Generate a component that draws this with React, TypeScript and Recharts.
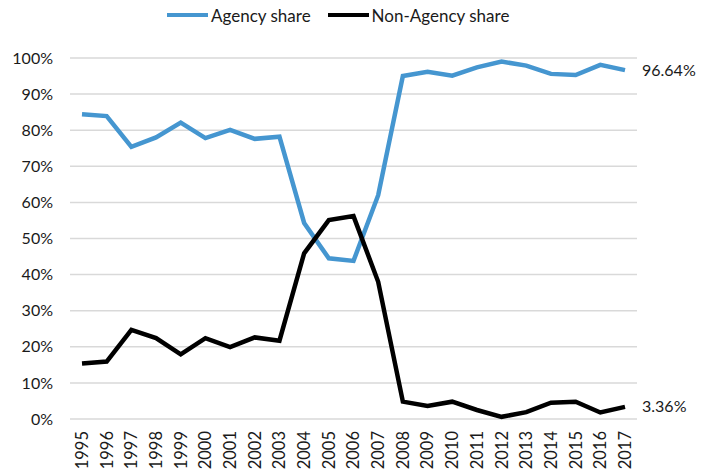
import { LineChart, Line, XAxis, YAxis, CartesianGrid, Legend, LabelList } from 'recharts';

const years = [
  '1995', '1996', '1997', '1998', '1999', '2000', '2001', '2002', '2003', '2004', '2005', '2006',
  '2007', '2008', '2009', '2010', '2011', '2012', '2013', '2014', '2015', '2016', '2017',
];

const agencyShare = [
  84.4, 83.9, 75.4, 78.0, 82.1, 77.8, 80.1, 77.6, 78.2, 54.3, 44.5, 43.8,
  62.0, 95.0, 96.2, 95.1, 97.4, 99.0, 97.9, 95.6, 95.3, 98.1, 96.64,
];

const nonAgencyShare = [
  15.4, 15.9, 24.7, 22.4, 17.9, 22.4, 19.9, 22.6, 21.7, 45.9, 55.1, 56.2,
  38.0, 4.8, 3.6, 4.8, 2.5, 0.6, 1.9, 4.5, 4.8, 1.8, 3.36,
];

const yTicks = [0, 10, 20, 30, 40, 50, 60, 70, 80, 90, 100];

const data = years.map((year, i) => ({
  year,
  agency: agencyShare[i],
  nonAgency: nonAgencyShare[i],
}));

const FONT = 'Lato, "Open Sans", sans-serif';
const TEXT = '#1a1a1a';
const BLUE = '#4596d0';
const BLACK = '#000000';

function YearTick({ x, y, payload }: any) {
  return (
    <text
      x={x}
      y={y}
      dy="0.36em"
      textAnchor="end"
      transform={`rotate(-90, ${x}, ${y})`}
      fontFamily={FONT}
      fontSize={16.5}
      fill={TEXT}
    >
      {payload.value}
    </text>
  );
}

// only the last point gets its value written at the right edge
function endLabel(props: any) {
  const { x, y, value, index } = props;
  if (index !== years.length - 1) return null;
  return (
    <text x={x + 17} y={y} dy="0.35em" fontFamily={FONT} fontSize={16} fill={TEXT}>
      {value.toFixed(2)}%
    </text>
  );
}

function LegendContent() {
  const items = [
    { name: 'Agency share', color: BLUE },
    { name: 'Non-Agency share', color: BLACK },
  ];
  return (
    <div
      style={{
        height: 30,
        display: 'flex',
        alignItems: 'center',
        paddingLeft: 167,
        fontFamily: FONT,
        fontSize: 17,
        color: TEXT,
      }}
    >
      {items.map((it) => (
        <span key={it.name} style={{ display: 'flex', alignItems: 'center', marginRight: 17 }}>
          <span style={{ width: 41, height: 4, background: it.color, marginRight: 3 }} />
          {it.name}
        </span>
      ))}
    </div>
  );
}

export default function App() {
  return (
    <div style={{ position: 'absolute', left: 0, top: 0, background: '#fff' }}>
      <LineChart width={704} height={472} data={data} margin={{ top: 28, right: 67, bottom: 0, left: 0 }}>
        <CartesianGrid vertical={false} stroke="#d9d9d9" strokeWidth={1.5} />
        <XAxis
          dataKey="year"
          interval={0}
          height={53}
          axisLine={false}
          tickLine={false}
          tickSize={0}
          tickMargin={12}
          padding={{ left: 12, right: 12 }}
          tick={<YearTick />}
        />
        <YAxis
          domain={[0, 100]}
          ticks={yTicks}
          width={70}
          axisLine={false}
          tickLine={false}
          tickSize={0}
          tickMargin={17}
          tickFormatter={(v: number) => `${v}%`}
          tick={{ fontFamily: FONT, fontSize: 16, fill: TEXT }}
        />
        <Legend
          verticalAlign="top"
          align="left"
          wrapperStyle={{ top: 0, left: 0, width: 704 }}
          content={<LegendContent />}
        />
        <Line
          type="linear"
          dataKey="agency"
          name="Agency share"
          stroke={BLUE}
          strokeWidth={4.5}
          dot={false}
          isAnimationActive={false}
        >
          <LabelList dataKey="agency" content={endLabel} />
        </Line>
        <Line
          type="linear"
          dataKey="nonAgency"
          name="Non-Agency share"
          stroke={BLACK}
          strokeWidth={4.5}
          dot={false}
          isAnimationActive={false}
        >
          <LabelList dataKey="nonAgency" content={endLabel} />
        </Line>
      </LineChart>
    </div>
  );
}
